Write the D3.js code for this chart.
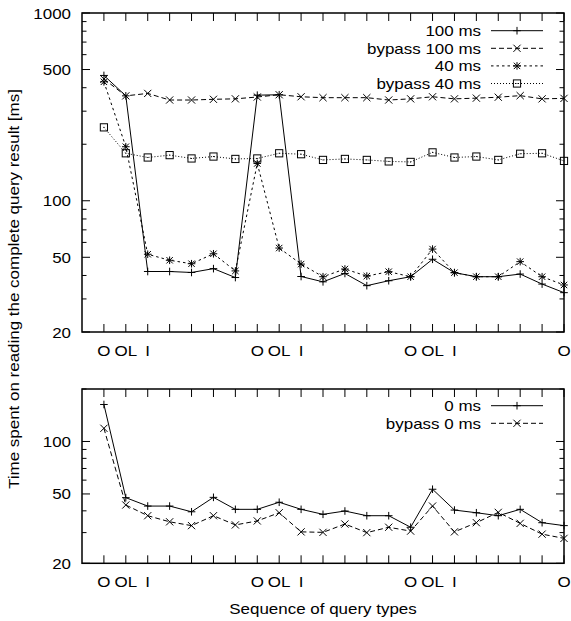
<!DOCTYPE html>
<html lang="en">
<head>
<meta charset="utf-8">
<title>Query reading time</title>
<script src="https://d3js.org/d3.v7.min.js"></script>
<style>
  body { margin: 0; background: white; }
  text { font-family: "Liberation Sans", Arial, sans-serif; font-size: 15px; fill: black; }
</style>
</head>
<body>
<script>
const w = 571;
const h = 621;

// x positions 0..21, labels only on some
const xLabels = ["O","OL","I","","","","","O","OL","I","","","","","O","OL","I","","","","","O"];

// top panel
const ms100    = [465, 362, 42, 42, 41.5, 43.5, 39, 365, 367, 39.5, 37, 41, 35.3, 37.5, 39.4, 48.8, 41.4, 39.4, 39.4, 40.7, 36, 32.4];
const bypass100 = [445, 362, 373, 344, 344, 347, 349, 357, 367, 358, 354, 354, 354, 344, 349, 358, 349, 352, 356, 363, 349, 351];
const ms40     = [430, 194, 51.9, 48.2, 46.2, 52.2, 42.3, 158, 56, 46, 39.4, 43.3, 39.7, 41.9, 39.4, 55.3, 41.4, 39.4, 39.4, 47.4, 39.4, 35.6];
const bypass40 = [246, 179, 170, 175, 168, 172, 167, 168, 179, 177, 165, 167, 165, 162, 161, 181, 170, 172, 165, 178, 179, 163];

// bottom panel
const ms0      = [163, 47.6, 42.6, 42.6, 39.5, 47.8, 40.8, 40.8, 44.8, 40.8, 38.2, 39.9, 37.5, 37.5, 32.2, 53.2, 40.4, 39.0, 37.5, 40.8, 34.2, 32.9];
const bypass0  = [119, 43.2, 37.5, 34.6, 32.9, 37.5, 33.2, 35.0, 39.0, 30.3, 30.1, 33.6, 30.0, 32.2, 30.6, 42.6, 30.3, 34.2, 39.2, 33.9, 29.4, 27.8];

const topTicks = [20, 50, 100, 500, 1000];
const bottomTicks = [20, 50, 100];

const stretch = 1.13;

const svg = d3.select("body").append("svg")
  .attr("width", w)
  .attr("height", h);

function widen(sel) {
  sel.each(function () {
    const len = this.getComputedTextLength();
    d3.select(this).attr("textLength", len * stretch).attr("lengthAdjust", "spacingAndGlyphs");
  });
}

const x = d3.scaleLinear().domain([-1, 21]).range([82, 564]);

function marker(g, type, cx, cy) {
  const p = d3.path();
  const s = 3.8;
  if (type === "plus" || type === "star") {
    p.moveTo(cx - s, cy); p.lineTo(cx + s, cy);
    p.moveTo(cx, cy - s); p.lineTo(cx, cy + s);
  }
  if (type === "cross" || type === "star") {
    const d = type === "star" ? 3.2 : 3.6;
    p.moveTo(cx - d, cy - d); p.lineTo(cx + d, cy + d);
    p.moveTo(cx - d, cy + d); p.lineTo(cx + d, cy - d);
  }
  if (type === "square") {
    g.append("rect").attr("x", cx - 3.6).attr("y", cy - 3.6)
      .attr("width", 7.2).attr("height", 7.2)
      .attr("fill", "none").attr("stroke", "black").attr("stroke-width", 1);
    g.append("rect").attr("x", cx - 0.5).attr("y", cy - 0.5)
      .attr("width", 1).attr("height", 1).attr("fill", "black");
    return;
  }
  g.append("path").attr("d", p.toString())
    .attr("fill", "none").attr("stroke", "black").attr("stroke-width", 1);
}

function drawPanel(cfg) {
  const y = d3.scaleLog().domain(cfg.domain).range([cfg.bottom, cfg.top]);
  const g = svg.append("g");

  // minor log ticks
  const minor = [];
  for (let dec = 10; dec < cfg.domain[1]; dec *= 10) {
    for (let k = 1; k <= 10; k++) {
      const v = dec * k;
      if (v >= cfg.domain[0] && v <= cfg.domain[1] && minor.indexOf(v) < 0) minor.push(v);
    }
  }
  minor.forEach(v => {
    const len = cfg.ticks.includes(v) ? 8 : 4.5;
    g.append("line").attr("x1", 82).attr("x2", 82 + len)
      .attr("y1", y(v)).attr("y2", y(v)).attr("stroke", "black");
    g.append("line").attr("x1", 564).attr("x2", 564 - len)
      .attr("y1", y(v)).attr("y2", y(v)).attr("stroke", "black");
  });

  g.selectAll(".ylab").data(cfg.ticks).enter().append("text")
    .attr("x", 71).attr("y", d => y(d) + 5.5)
    .attr("text-anchor", "end")
    .text(d => d)
    .call(widen);

  // x ticks, bottom and top
  xLabels.forEach((lab, i) => {
    g.append("line").attr("x1", x(i)).attr("x2", x(i))
      .attr("y1", cfg.bottom).attr("y2", cfg.bottom - 8).attr("stroke", "black");
    g.append("line").attr("x1", x(i)).attr("x2", x(i))
      .attr("y1", cfg.top).attr("y2", cfg.top + 8).attr("stroke", "black");
  });
  g.selectAll(".xlab").data(xLabels.map((d, i) => ({ d, i })).filter(o => o.d !== ""))
    .enter().append("text")
    .attr("x", o => x(o.i)).attr("y", cfg.bottom + 23.5)
    .attr("text-anchor", "middle")
    .text(o => o.d)
    .call(widen);

  // series
  cfg.series.forEach(s => {
    const line = d3.line().x((d, i) => x(i)).y(d => y(d));
    g.append("path").datum(s.values)
      .attr("d", line)
      .attr("fill", "none").attr("stroke", "black").attr("stroke-width", 1)
      .attr("stroke-dasharray", s.dash);
    s.values.forEach((v, i) => marker(g, s.marker, x(i), y(v)));
  });

  // legend
  cfg.series.forEach((s, k) => {
    const ly = cfg.legendTop + k * 17.6;
    g.append("text").attr("x", 481).attr("y", ly + 5.5)
      .attr("text-anchor", "end").text(s.name).call(widen);
    g.append("line").attr("x1", 491).attr("x2", 543)
      .attr("y1", ly).attr("y2", ly)
      .attr("stroke", "black").attr("stroke-width", 1)
      .attr("stroke-dasharray", s.dash);
    marker(g, s.marker, 517, ly);
  });

  // frame
  g.append("rect").attr("x", 82).attr("y", cfg.top)
    .attr("width", 564 - 82).attr("height", cfg.bottom - cfg.top)
    .attr("fill", "none").attr("stroke", "black").attr("stroke-width", 1.5);
}

drawPanel({
  top: 13, bottom: 332, domain: [20, 1000], ticks: topTicks, legendTop: 30.7,
  series: [
    { name: "100 ms", values: ms100, marker: "plus", dash: null },
    { name: "bypass 100 ms", values: bypass100, marker: "cross", dash: "5,3" },
    { name: "40 ms", values: ms40, marker: "star", dash: "2.5,3" },
    { name: "bypass 40 ms", values: bypass40, marker: "square", dash: "1,2" }
  ]
});

drawPanel({
  top: 389, bottom: 563.3, domain: [20, 200], ticks: bottomTicks, legendTop: 405.7,
  series: [
    { name: "0 ms", values: ms0, marker: "plus", dash: null },
    { name: "bypass 0 ms", values: bypass0, marker: "cross", dash: "5,3" }
  ]
});

svg.append("text")
  .attr("x", 323).attr("y", 614)
  .attr("text-anchor", "middle")
  .text("Sequence of query types")
  .call(widen);

svg.append("text")
  .attr("transform", "translate(19,289) rotate(-90)")
  .attr("text-anchor", "middle")
  .text("Time spent on reading the complete query result [ms]")
  .call(widen);
</script>
</body>
</html>
